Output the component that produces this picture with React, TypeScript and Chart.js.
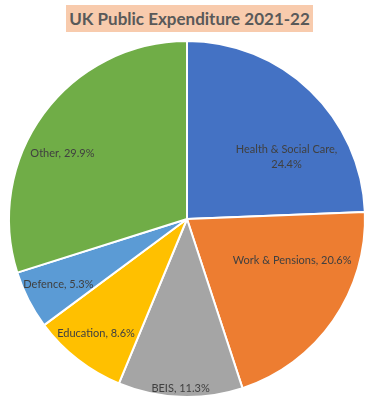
import React, { useEffect, useRef } from "react";
import { Chart, registerables } from "chart.js";

Chart.register(...registerables);

const titleText = "UK Public Expenditure 2021-22";
const categories = ["Health & Social Care", "Work & Pensions", "BEIS", "Education", "Defence", "Other"];
const shares = [24.4, 20.6, 11.3, 8.6, 5.3, 29.9];
const sliceColors = ["#4472C4", "#ED7D31", "#A5A5A5", "#FFC000", "#5B9BD5", "#70AD47"];

// label placement within each slice: fraction along the arc, fraction of radius, and whether to wrap
const labelPlacement = [
  { f: 0.66, r: 0.66, wrap: true },
  { f: 0.32, r: 0.635, wrap: false },
  { f: 0.5, r: 0.955, wrap: false },
  { f: 0.52, r: 0.82, wrap: false },
  { f: 0.51, r: 0.81, wrap: false },
  { f: 0.42, r: 0.79, wrap: false },
];

const labelPlugin = {
  id: "sliceLabels",
  afterDatasetsDraw(chart: any) {
    const ctx = chart.ctx;
    const meta = chart.getDatasetMeta(0);
    ctx.save();
    ctx.font = "11px Lato, 'Open Sans', sans-serif";
    ctx.fillStyle = "#404040";
    ctx.textAlign = "center";
    ctx.textBaseline = "middle";
    meta.data.forEach((arc: any, i: number) => {
      const p = arc.getProps(["x", "y", "startAngle", "endAngle", "outerRadius"], true);
      const pl = labelPlacement[i];
      const a = p.startAngle + pl.f * (p.endAngle - p.startAngle);
      const rr = pl.r * p.outerRadius;
      const cx = p.x + Math.cos(a) * rr;
      const cy = p.y + Math.sin(a) * rr;
      const pct = shares[i].toFixed(1) + "%";
      if (pl.wrap) {
        ctx.fillText(categories[i] + ",", cx, cy - 7);
        ctx.fillText(pct, cx, cy + 8);
      } else {
        ctx.fillText(categories[i] + ", " + pct, cx, cy);
      }
    });
    ctx.restore();
  },
};

export default function App() {
  const ref = useRef<HTMLCanvasElement | null>(null);
  useEffect(() => {
    if (!ref.current) return;
    const chart = new Chart(ref.current, {
      type: "pie",
      data: {
        labels: categories,
        datasets: [
          {
            data: shares,
            backgroundColor: sliceColors,
            borderColor: "#ffffff",
            borderWidth: 2,
            hoverBorderWidth: 2,
          },
        ],
      },
      options: {
        animation: false,
        responsive: false,
        maintainAspectRatio: false,
        radius: 178,
        layout: { padding: { top: 40, bottom: 12, left: 0, right: 0 } },
        plugins: {
          legend: { display: false },
          tooltip: { enabled: false },
          title: { display: false },
        },
      } as any,
      plugins: [labelPlugin],
    });
    return () => chart.destroy();
  }, []);

  return (
    <div style={{ position: "absolute", left: 0, top: 0, width: 374, height: 410, background: "#ffffff" }}>
      <canvas ref={ref} width={374} height={410} style={{ position: "absolute", left: 0, top: 0, width: 374, height: 410 }} />
      <div
        style={{
          position: "absolute",
          left: 66,
          top: 5,
          width: 247,
          height: 27,
          background: "#F8CBAD",
          color: "#595959",
          fontFamily: "Lato, 'Open Sans', sans-serif",
          fontWeight: 700,
          fontSize: 17,
          lineHeight: "27px",
          textAlign: "center",
          whiteSpace: "nowrap",
        }}
      >
        {titleText}
      </div>
    </div>
  );
}
